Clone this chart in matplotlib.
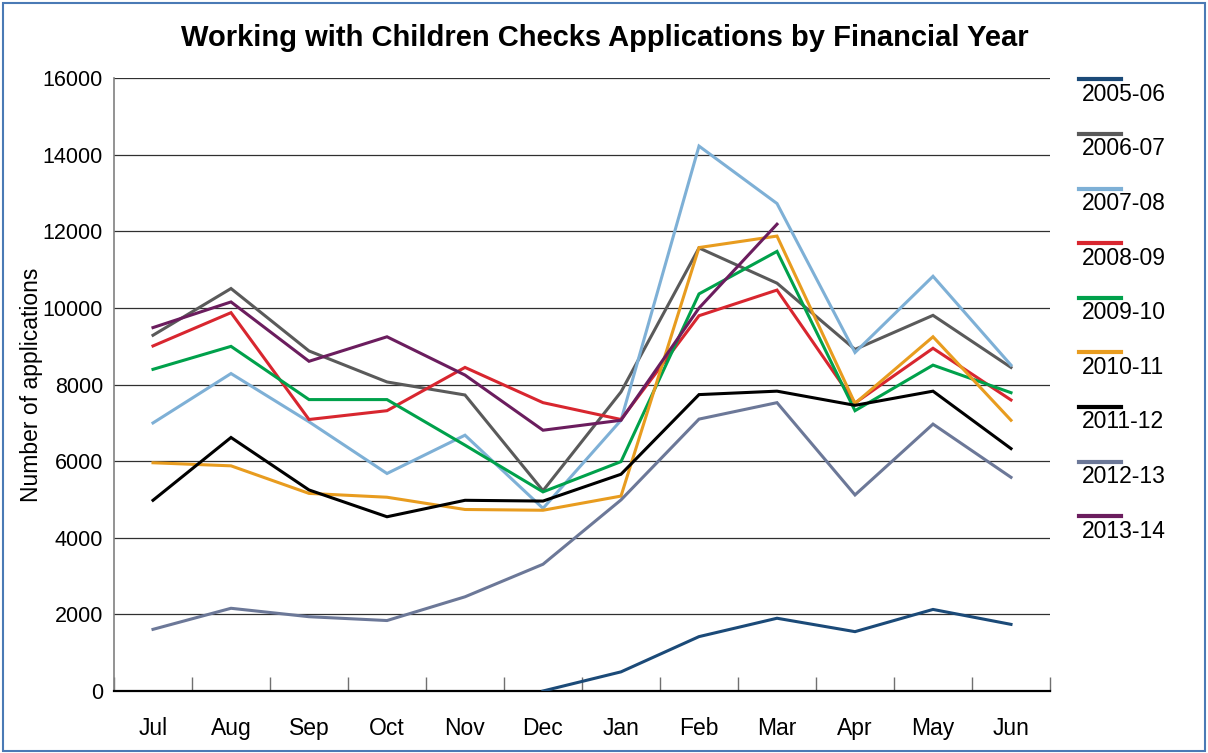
import numpy as np
import matplotlib
matplotlib.use("Agg")
import matplotlib.pyplot as plt
from matplotlib.lines import Line2D
from matplotlib.patches import Rectangle

plt.rcParams['font.family'] = ['Liberation Sans', 'DejaVu Sans']

nan = np.nan
months = ["Jul", "Aug", "Sep", "Oct", "Nov", "Dec", "Jan", "Feb", "Mar", "Apr", "May", "Jun"]

fy_2005_06 = [nan, nan, nan, nan, nan, 0, 500, 1420, 1900, 1550, 2130, 1740]
fy_2006_07 = [9290, 10510, 8880, 8070, 7730, 5230, 7810, 11570, 10650, 8920, 9810, 8450]
fy_2007_08 = [7000, 8290, 7030, 5680, 6680, 4770, 7070, 14230, 12730, 8840, 10830, 8510]
fy_2008_09 = [9010, 9880, 7090, 7320, 8450, 7530, 7090, 9800, 10470, 7520, 8950, 7600]
fy_2009_10 = [8400, 9000, 7610, 7610, 6420, 5200, 5990, 10370, 11480, 7320, 8510, 7790]
fy_2010_11 = [5960, 5880, 5160, 5060, 4740, 4720, 5090, 11580, 11880, 7510, 9250, 7070]
fy_2011_12 = [4980, 6620, 5250, 4550, 4980, 4960, 5660, 7740, 7830, 7460, 7830, 6330]
fy_2012_13 = [1610, 2160, 1940, 1840, 2460, 3310, 4990, 7100, 7530, 5120, 6970, 5580]
fy_2013_14 = [9490, 10160, 8610, 9250, 8250, 6810, 7070, 10000, 12190, nan, nan, nan]

labels = ["2005-06", "2006-07", "2007-08", "2008-09", "2009-10",
          "2010-11", "2011-12", "2012-13", "2013-14"]
series = [fy_2005_06, fy_2006_07, fy_2007_08, fy_2008_09, fy_2009_10,
          fy_2010_11, fy_2011_12, fy_2012_13, fy_2013_14]
colors = ["#1b4a78", "#5a5a5a", "#7eb0d6", "#d8262f", "#00a14b",
          "#e89c1f", "#000000", "#6c7898", "#6b1d5e"]

W, H = 1208, 753
fig = plt.figure(figsize=(W / 100, H / 100), dpi=100)
ax = fig.add_axes([114 / W, 1 - 691 / H, (1050 - 114) / W, (691 - 78.3) / H])

x = np.arange(len(months))
for vals, c, lab in zip(series, colors, labels):
    ax.plot(x, vals, color=c, lw=2.2, label=lab, solid_joinstyle='miter', zorder=3)

ax.set_xlim(-0.5, len(months) - 0.5)
ax.set_ylim(0, 16000)
ax.set_yticks(np.arange(0, 16001, 2000))
ax.set_yticklabels([str(v) for v in range(0, 16001, 2000)], fontsize=15.5)
ax.tick_params(axis='y', length=0, pad=8)

# gridlines
for v in range(2000, 16001, 2000):
    ax.axhline(v, color='#303030', lw=0.9, zorder=1)

# category boundary ticks on x axis
ax.set_xticks(x)
ax.set_xticklabels(months, fontsize=16.5)
ax.tick_params(axis='x', length=0, pad=19)
ax.set_xticks(np.arange(-0.5, len(months)), minor=True)
ax.tick_params(axis='x', which='minor', direction='in', length=10, color='#707070', width=1)

for s in ['top', 'right']:
    ax.spines[s].set_visible(False)
ax.spines['left'].set_color('#808080')
ax.spines['left'].set_linewidth(1.2)
ax.spines['bottom'].set_color('#000000')
ax.spines['bottom'].set_linewidth(1.6)

ax.set_ylabel("Number of applications", fontsize=16.5)
ax.yaxis.set_label_coords(-0.076, 0.5)

fig.text(605 / W, 1 - 46 / H, "Working with Children Checks Applications by Financial Year",
         ha='center', va='baseline', fontsize=21, fontweight='bold')

# legend: line above each label
for i, (c, lab) in enumerate(zip(colors, labels)):
    ly = 79.3 + i * 54.6
    fig.add_artist(Line2D([1079 / W, 1121 / W], [1 - ly / H, 1 - ly / H],
                          color=c, lw=3, transform=fig.transFigure))
    fig.text(1082 / W, 1 - (ly + 15) / H, lab, ha='left', va='center', fontsize=16.5)

# outer border
fig.add_artist(Rectangle((3 / W, 2 / H), (1205 - 3) / W, (751 - 3) / H,
                         transform=fig.transFigure, fill=False,
                         edgecolor='#4a7ab5', lw=1.5))

fig.savefig("out.png", dpi=100)
